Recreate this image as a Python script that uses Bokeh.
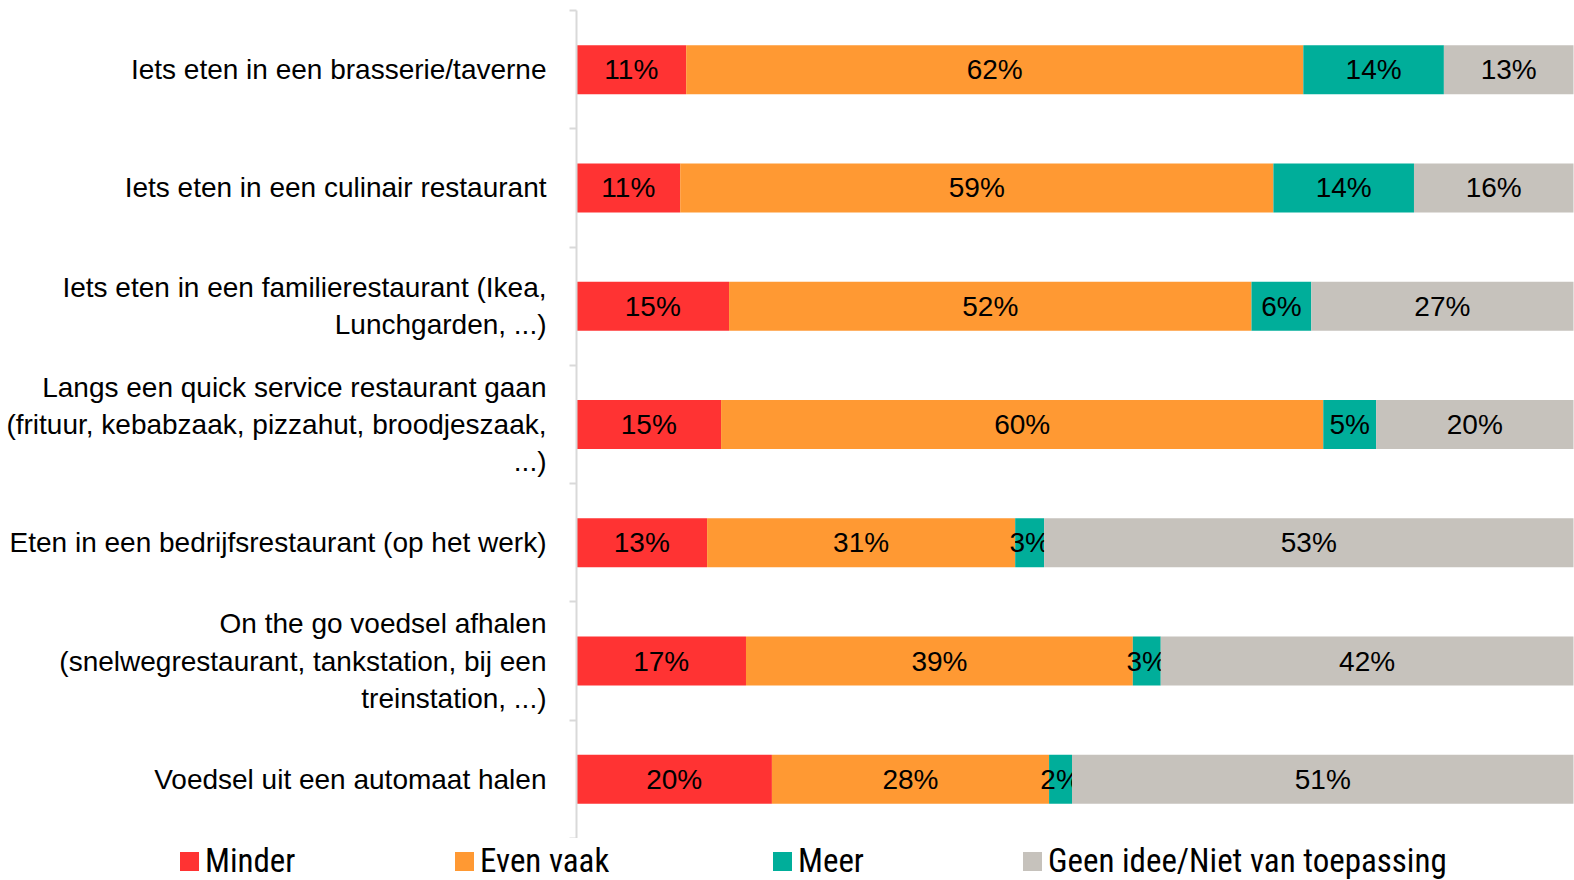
from bokeh.plotting import figure
from bokeh.layouts import column
from bokeh.models import ColumnDataSource, Range1d, FixedTicker, Div
from bokeh.core.properties import value
from bokeh.embed import file_html
from bokeh.resources import INLINE

categories = [
    "Iets eten in een brasserie/taverne",
    "Iets eten in een culinair restaurant",
    "Iets eten in een familierestaurant (Ikea,\nLunchgarden, ...)",
    "Langs een quick service restaurant gaan\n(frituur, kebabzaak, pizzahut, broodjeszaak,\n...)",
    "Eten in een bedrijfsrestaurant (op het werk)",
    "On the go voedsel afhalen\n(snelwegrestaurant, tankstation, bij een\ntreinstation, ...)",
    "Voedsel uit een automaat halen",
]
series_names = ["Minder", "Even vaak", "Meer", "Geen idee/Niet van toepassing"]
minder = [11.0, 10.4, 15.3, 14.5, 13.1, 17.0, 19.6]
even_vaak = [61.9, 59.5, 52.4, 60.4, 30.9, 38.8, 27.8]
meer = [14.1, 14.1, 6.0, 5.3, 2.9, 2.8, 2.3]
geen_idee = [13.0, 16.0, 26.3, 19.8, 53.1, 41.4, 50.3]
minder_lbl = [11, 11, 15, 15, 13, 17, 20]
even_vaak_lbl = [62, 59, 52, 60, 31, 39, 28]
meer_lbl = [14, 14, 6, 5, 3, 3, 2]
geen_idee_lbl = [13, 16, 27, 20, 53, 42, 51]
colors = ["#FF3333", "#FF9933", "#00AE9A", "#C6C2BC"]

FONT = "Liberation Sans"
LEGEND_FONT = "'Roboto Condensed', 'DejaVu Sans Condensed', 'Liberation Sans Narrow', sans-serif"
W = 1574
H_MAIN = 838
H_LEG = 42
LEFT = 576
TOP = 10
n = len(categories)

p = figure(width=W, height=H_MAIN, output_backend="svg", toolbar_location=None,
           x_range=Range1d(0, (W - LEFT) / 9.97),
           y_range=Range1d(n, 0),
           min_border_left=LEFT, min_border_right=0, min_border_top=TOP,
           min_border_bottom=0, x_axis_location=None)
p.outline_line_color = None
p.xgrid.visible = False
p.ygrid.visible = False

ys = [i + 0.5 for i in range(n)]
all_vals = [minder, even_vaak, meer, geen_idee]
all_lbls = [minder_lbl, even_vaak_lbl, meer_lbl, geen_idee_lbl]
left = [0.0] * n
for vals, lbls, col in zip(all_vals, all_lbls, colors):
    right = [l + v for l, v in zip(left, vals)]
    src = ColumnDataSource(dict(y=ys, left=left, right=right,
                                mid=[(l + r) / 2 for l, r in zip(left, right)],
                                txt=[f"{t}%" for t in lbls]))
    p.hbar(y="y", left="left", right="right", height=0.414, source=src,
           fill_color=col, line_color=None)
    p.text(x="mid", y="y", text="txt", source=src, text_align="center",
           text_baseline="middle", text_font=value(FONT), text_font_size="28px",
           text_color="black")
    left = right

ax = p.yaxis[0]
ax.ticker = FixedTicker(ticks=ys, minor_ticks=[float(i) for i in range(n + 1)])
ax.bounds = (0, n)
ax.major_label_overrides = {y: c for y, c in zip(ys, categories)}
ax.major_tick_line_color = None
ax.major_tick_out = 0
ax.major_tick_in = 0
ax.minor_tick_line_color = "#D9D9D9"
ax.minor_tick_line_width = 2
ax.minor_tick_out = 7
ax.minor_tick_in = 0
ax.axis_line_color = "#D9D9D9"
ax.axis_line_width = 2
ax.major_label_standoff = 23
ax.major_label_text_font = FONT
ax.major_label_text_font_size = "28px"
ax.major_label_text_color = "black"

# legend strip below the chart
legend_x = [180, 455, 773, 1023]
items = []
for nm, c, x in zip(series_names, colors, legend_x):
    items.append(
        f'<span style="position:absolute;left:{x}px;top:14px;width:19px;height:19px;'
        f'background:{c};"></span>'
        f'<span style="position:absolute;left:{x + 25}px;top:6px;line-height:1;'
        f'white-space:nowrap;">{nm}</span>'
    )
html = (f'<div style="position:relative;width:{W}px;height:{H_LEG}px;overflow:hidden;'
        f'font-family:{LEGEND_FONT};font-size:33px;color:black;">' + "".join(items) + "</div>")
legend_div = Div(text=html, width=W, height=H_LEG, margin=(0, 0, 0, 0))

layout = column(p, legend_div, spacing=0)
open("out.html", "w").write(file_html(layout, INLINE))
